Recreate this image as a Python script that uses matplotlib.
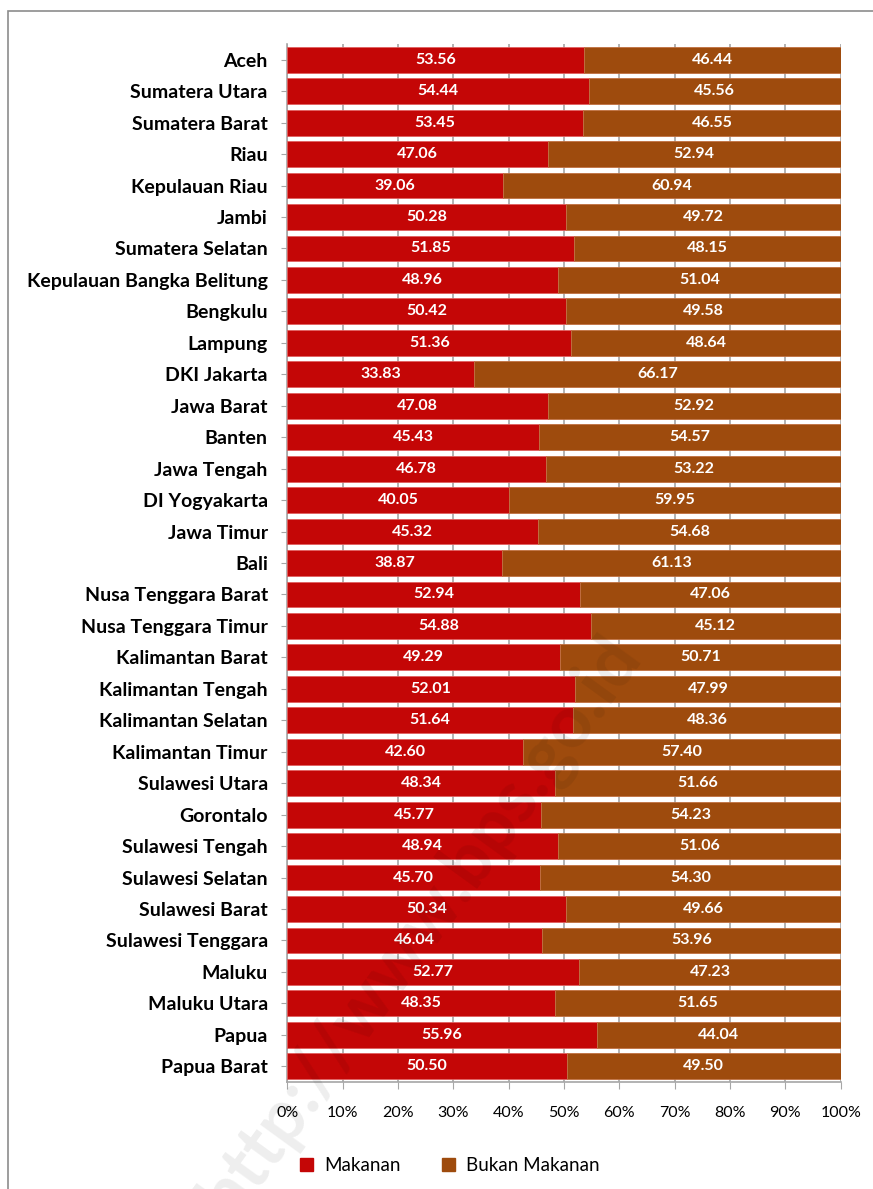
import matplotlib.pyplot as plt
from matplotlib.patches import Rectangle
import numpy as np

# --- DATA ---
provinces = [
    "Aceh", "Sumatera Utara", "Sumatera Barat", "Riau", "Kepulauan Riau",
    "Jambi", "Sumatera Selatan", "Kepulauan Bangka Belitung", "Bengkulu",
    "Lampung", "DKI Jakarta", "Jawa Barat", "Banten", "Jawa Tengah",
    "DI Yogyakarta", "Jawa Timur", "Bali", "Nusa Tenggara Barat",
    "Nusa Tenggara Timur", "Kalimantan Barat", "Kalimantan Tengah",
    "Kalimantan Selatan", "Kalimantan Timur", "Sulawesi Utara", "Gorontalo",
    "Sulawesi Tengah", "Sulawesi Selatan", "Sulawesi Barat",
    "Sulawesi Tenggara", "Maluku", "Maluku Utara", "Papua", "Papua Barat",
]
makanan = [
    53.56, 54.44, 53.45, 47.06, 39.06, 50.28, 51.85, 48.96, 50.42, 51.36,
    33.83, 47.08, 45.43, 46.78, 40.05, 45.32, 38.87, 52.94, 54.88, 49.29,
    52.01, 51.64, 42.60, 48.34, 45.77, 48.94, 45.70, 50.34, 46.04, 52.77,
    48.35, 55.96, 50.50,
]
bukan_makanan = [
    46.44, 45.56, 46.55, 52.94, 60.94, 49.72, 48.15, 51.04, 49.58, 48.64,
    66.17, 52.92, 54.57, 53.22, 59.95, 54.68, 61.13, 47.06, 45.12, 50.71,
    47.99, 48.36, 57.40, 51.66, 54.23, 51.06, 54.30, 49.66, 53.96, 47.23,
    51.65, 44.04, 49.50,
]
xticks = [0, 10, 20, 30, 40, 50, 60, 70, 80, 90, 100]

RED = "#C40606"
BROWN = "#9E4B0D"

plt.rcParams["font.family"] = ["Lato", "DejaVu Sans"]

fig = plt.figure(figsize=(8.73, 11.89), dpi=100)
ax = fig.add_axes([0.329, 0.090, 0.634, 0.873])

y = np.arange(len(provinces))
mk = np.array(makanan)
bk = np.array(bukan_makanan)

ax.barh(y, mk, height=0.82, color=RED, edgecolor="#E06060", linewidth=0.6, zorder=3)
ax.barh(y, bk, left=mk, height=0.82, color=BROWN, edgecolor="#C07040", linewidth=0.6, zorder=3)

for i in range(len(provinces)):
    ax.text(mk[i] / 2, y[i], f"{makanan[i]:.2f}", ha="center", va="center",
            color="white", fontsize=11.5, fontweight="bold", zorder=4)
    ax.text(mk[i] + bk[i] / 2, y[i], f"{bukan_makanan[i]:.2f}", ha="center", va="center",
            color="white", fontsize=11.5, fontweight="bold", zorder=4)

ax.set_ylim(len(provinces) - 0.5, -0.5)
ax.set_xlim(0, 100)
ax.set_yticks(y)
ax.set_yticklabels(provinces, fontsize=14, fontweight="bold")
ax.set_xticks(xticks)
ax.set_xticklabels([f"{t}%" for t in xticks], fontsize=11.5)
ax.xaxis.grid(True, color="#A6A6A6", linewidth=1.2, zorder=0)
ax.tick_params(axis="y", length=4, color="#A6A6A6", pad=10)
ax.tick_params(axis="x", length=5, color="#A6A6A6", pad=12)
for s in ["top", "right"]:
    ax.spines[s].set_visible(False)
ax.spines["left"].set_color("#A6A6A6")
ax.spines["bottom"].set_color("#A6A6A6")
ax.spines["left"].set_linewidth(1.2)
ax.spines["bottom"].set_linewidth(1.2)

# legend
h1 = Rectangle((0, 0), 1, 1, color=RED)
h2 = Rectangle((0, 0), 1, 1, color=BROWN)
fig.legend([h1, h2], ["Makanan", "Bukan Makanan"], loc="center",
           bbox_to_anchor=(0.515, 0.020), ncol=2, frameon=False,
           fontsize=13.5, handlelength=0.7, handleheight=0.7, columnspacing=2.2,
           handletextpad=0.6)

# watermark
fig.text(0.481, 0.221, "http://www.bps.go.id", rotation=54, fontsize=52,
         fontweight="bold", color="black", alpha=0.07, ha="center", va="center",
         zorder=10)

# outer border
fig.patches.append(Rectangle((0.009, -0.01), 1.0, 1.0007, transform=fig.transFigure,
                             fill=False, edgecolor="#8C8C8C", linewidth=1.2))

fig.savefig("out.png", dpi=100)
